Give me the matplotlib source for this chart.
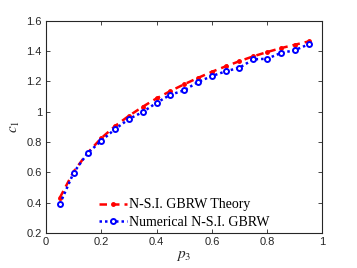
import matplotlib
matplotlib.use("Agg")
import matplotlib.pyplot as plt

p3 = [0.05, 0.10, 0.15, 0.20, 0.25, 0.30, 0.35, 0.40, 0.45, 0.50,
      0.55, 0.60, 0.65, 0.70, 0.75, 0.80, 0.85, 0.90, 0.95]
theory = [0.433, 0.605, 0.727, 0.825, 0.905, 0.972, 1.032, 1.087, 1.135, 1.180,
          1.222, 1.262, 1.298, 1.332, 1.364, 1.392, 1.418, 1.440, 1.462]
numerical = [0.391, 0.598, 0.725, 0.808, 0.885, 0.951, 0.997, 1.058, 1.111, 1.140,
             1.195, 1.234, 1.265, 1.289, 1.344, 1.348, 1.386, 1.404, 1.443]
xticks = [0, 0.2, 0.4, 0.6, 0.8, 1]
yticks = [0.2, 0.4, 0.6, 0.8, 1.0, 1.2, 1.4, 1.6]
xtick_labels = ["0", "0.2", "0.4", "0.6", "0.8", "1"]
ytick_labels = ["0.2", "0.4", "0.6", "0.8", "1", "1.2", "1.4", "1.6"]

plt.rcParams['mathtext.fontset'] = 'stix'
plt.rcParams['font.family'] = ['Liberation Sans', 'DejaVu Sans']

fig = plt.figure(figsize=(3.57, 2.68), dpi=100)
ax = fig.add_axes([0.129, 0.1306, 0.774, 0.7929])

gray = (0.15, 0.15, 0.15)
ax.plot(p3, theory, linestyle=(0, (3, 2)), color='red', linewidth=1.8,
        marker='.', markersize=5, label='N-S.I. GBRW Theory')
ax.plot(p3, numerical, linestyle=(0, (1, 1.2)), color='blue', linewidth=1.8,
        marker='o', markersize=3.6, markerfacecolor='white', markeredgewidth=1.4,
        label='Numerical N-S.I. GBRW')

ax.set_xlim(0, 1)
ax.set_ylim(0.2, 1.6)
ax.set_xticks(xticks)
ax.set_xticklabels(xtick_labels)
ax.set_yticks(yticks)
ax.set_yticklabels(ytick_labels)
ax.tick_params(direction='in', top=True, right=True, length=3, width=0.6,
               labelsize=8, colors=gray, pad=3)
for s in ax.spines.values():
    s.set_color(gray)
    s.set_linewidth(0.8)

ax.set_xlabel(r'$p_3$', fontsize=11, color=gray, labelpad=1)
ax.set_ylabel(r'$c_1$', fontsize=11, color=gray, labelpad=3)

leg = ax.legend(loc='lower left', bbox_to_anchor=(0.148, -0.038), frameon=False,
                prop={'family': 'Liberation Serif', 'size': 10},
                handlelength=2.0, handletextpad=0.15, labelspacing=0.3)

fig.savefig('out.png', dpi=100)
